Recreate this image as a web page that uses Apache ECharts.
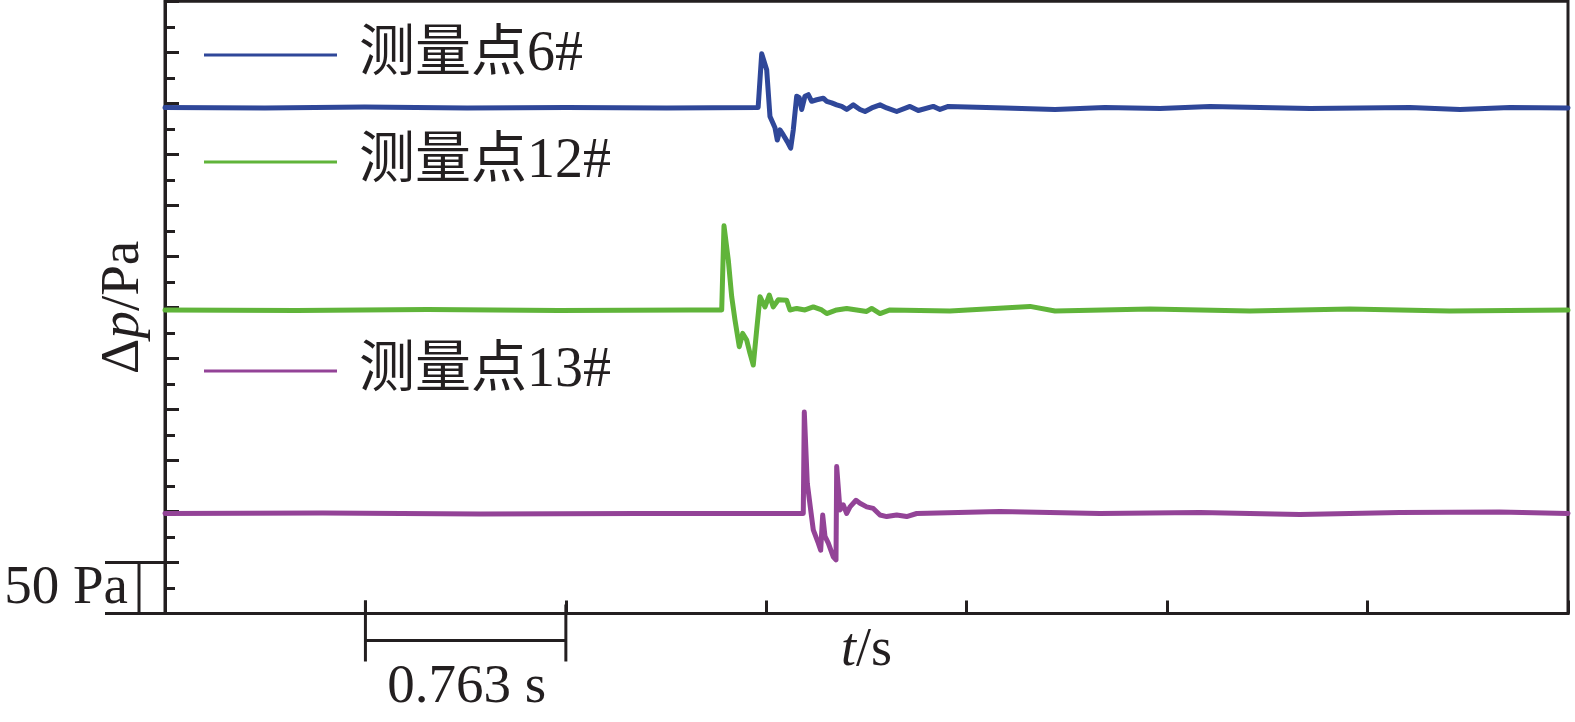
<!DOCTYPE html>
<html><head><meta charset="utf-8">
<script src="https://cdn.jsdelivr.net/npm/echarts@6/dist/echarts.min.js"></script>
<style>html,body{margin:0;padding:0;background:#fff}#c{width:1575px;height:722px}</style>
</head><body><div id="c"></div>
<script>
// ---- data ----
const seriesNames = ['测量点6#', '测量点12#', '测量点13#'];
const seriesColors = ['#2f4799', '#60b43a', '#934397'];

const t6 = [0, 0.38, 0.76, 1.15, 1.53, 1.91, 2.258, 2.2715, 2.2905, 2.3031, 2.3221, 2.3309, 2.3411, 2.3537, 2.3689, 2.3819, 2.3918, 2.4047, 2.4146, 2.4238, 2.4363, 2.4489, 2.4618, 2.4809, 2.5060, 2.5190, 2.5380, 2.5570, 2.5761, 2.5951, 2.6202, 2.6457, 2.6648, 2.6903, 2.7219, 2.7474, 2.7854, 2.8360, 2.8676, 2.9247, 2.9503, 2.9819, 3.198, 3.388, 3.578, 3.788, 3.978, 4.359, 4.739, 4.930, 5.120, 5.341];
const p6 = [496, 495.5, 496.5, 495.5, 496, 495.5, 496, 548.5, 533, 487, 476, 464, 474, 469, 462.5, 456, 474, 507, 505.5, 494, 507, 508.5, 502, 503.5, 505, 502, 500.5, 498.5, 497, 494, 498.5, 494, 492, 495.5, 498.5, 495.5, 492, 497, 493, 497, 494, 497, 495.5, 494, 496, 495, 497, 495, 496, 494, 496, 495.5];

const t12 = [0, 0.5, 1.0, 1.5, 2.0, 2.1193, 2.1280, 2.1444, 2.1573, 2.1699, 2.1862, 2.1992, 2.2144, 2.2270, 2.2395, 2.2525, 2.2650, 2.2715, 2.2840, 2.3004, 2.3156, 2.3347, 2.3666, 2.3792, 2.4047, 2.4363, 2.4679, 2.4999, 2.5190, 2.5570, 2.5951, 2.6332, 2.6712, 2.6903, 2.7219, 2.7600, 2.988, 3.293, 3.388, 3.75, 4.13, 4.51, 4.89, 5.341];
const p12 = [297.5, 297, 298, 297, 297.5, 297.5, 380, 346.5, 310.5, 287.5, 261.5, 274.5, 268, 255, 243.5, 278, 310.5, 312, 300.5, 312, 300.5, 307.5, 307, 297.5, 299, 297.5, 300.5, 297.5, 294, 297.5, 299, 297.5, 296, 299, 294, 297.5, 296.5, 301, 296.5, 298.5, 296.5, 298.5, 296.5, 297.5];

const t13 = [0, 0.6, 1.2, 1.8, 2.4298, 2.4337, 2.4451, 2.4580, 2.4679, 2.4870, 2.4961, 2.5037, 2.5125, 2.5251, 2.5441, 2.5544, 2.5570, 2.5631, 2.5696, 2.5822, 2.5951, 2.6077, 2.6305, 2.6457, 2.6712, 2.6963, 2.7219, 2.7474, 2.7854, 2.8235, 2.8616, 3.178, 3.559, 3.94, 4.32, 4.70, 5.08, 5.341];
const p13 = [98, 98.5, 97.5, 98, 98, 197.5, 127.5, 101.5, 82, 69, 62, 96.5, 75.5, 69, 55.5, 52.5, 144, 142.5, 101.5, 106.5, 98, 104.5, 111, 108, 104.5, 103, 96.5, 95, 96.5, 95, 98, 100, 98, 99, 97, 99, 99.5, 98];

const timeStep = 0.763;            // s per x division
const timeMax = 5.341;             // 7 divisions
const paStep = 50;                 // Pa per major y division
const paMax = 600;
const scaleBarTime = [0.763, 1.526];
const scaleBarPa = [0, 50];
const scaleBarTimeLabel = '0.763 s';
const scaleBarPaLabel = '50 Pa';

// ---- chart ----
const FONT = '"Liberation Serif", "Noto Sans CJK SC", serif';
const INK = '#231f20';
const zip = (t, p) => t.map((v, i) => [v, p[i]]);
const seriesData = [zip(t6, p6), zip(t12, p12), zip(t13, p13)];
const legendCenters = [55, 162, 371];

const chart = echarts.init(document.getElementById('c'), null, {renderer: 'canvas'});

const lineSeries = seriesNames.map((n, i) => ({
  name: n, type: 'line', data: seriesData[i], showSymbol: false, symbol: 'none',
  lineStyle: {color: seriesColors[i], width: 5, join: 'round', cap: 'round'}, itemStyle: {color: seriesColors[i]},
  animation: false, z: 3
}));

const scaleSeries = {
  type: 'custom', silent: true, clip: false, animation: false, z: 5,
  data: [[scaleBarTime[0], scaleBarTime[1], scaleBarPa[0], scaleBarPa[1]]],
  renderItem: function (params, api) {
    const a = api.coord([api.value(0), 0]);
    const b = api.coord([api.value(1), 0]);
    const o = api.coord([0, api.value(2)]);
    const q = api.coord([0, api.value(3)]);
    const ls = {stroke: INK, lineWidth: 3};
    const barY = a[1] + 27, bottomY = a[1] + 48;
    return {type: 'group', children: [
      {type: 'line', shape: {x1: a[0], y1: a[1] - 13, x2: a[0], y2: bottomY}, style: ls},
      {type: 'line', shape: {x1: b[0], y1: b[1] - 9, x2: b[0], y2: bottomY}, style: ls},
      {type: 'line', shape: {x1: a[0], y1: barY, x2: b[0], y2: barY}, style: ls},
      {type: 'text', x: (a[0] + b[0]) / 2 + 1, y: a[1] + 74, style: {text: scaleBarTimeLabel, fill: INK, font: '55px ' + FONT, align: 'center', verticalAlign: 'middle'}},
      {type: 'line', shape: {x1: q[0] - 60, y1: q[1], x2: q[0], y2: q[1]}, style: ls},
      {type: 'line', shape: {x1: o[0] - 60, y1: o[1], x2: o[0], y2: o[1]}, style: ls},
      {type: 'line', shape: {x1: o[0] - 26, y1: q[1], x2: o[0] - 26, y2: o[1]}, style: ls},
      {type: 'text', x: o[0] - 37, y: (o[1] + q[1]) / 2 + 1, style: {text: scaleBarPaLabel, fill: INK, font: '55px ' + FONT, align: 'right', verticalAlign: 'middle'}}
    ]};
  }
};

const legends = seriesNames.map((n, i) => ({
  data: [n], left: 204, top: legendCenters[i] - 30, padding: 0, orient: 'horizontal',
  icon: 'rect', itemWidth: 133, itemHeight: 3, selectedMode: false,
  textStyle: {fontSize: 56, fontFamily: FONT, color: INK, lineHeight: 60, padding: [0, 0, 0, 17]}
}));

chart.setOption({
  backgroundColor: '#fff',
  animation: false,
  legend: legends,
  grid: {left: 165, right: 7, top: 1.3, bottom: 108.5, show: true, borderColor: INK, borderWidth: 3, backgroundColor: 'transparent'},
  xAxis: {
    type: 'value', min: 0, max: timeMax, interval: timeStep,
    name: '{i|t}/s', nameLocation: 'middle', nameGap: 10,
    nameTextStyle: {fontSize: 54, fontFamily: FONT, color: INK, verticalAlign: 'top',
      rich: {i: {fontSize: 54, fontFamily: FONT, fontStyle: 'italic', color: INK}}},
    axisLine: {show: true, lineStyle: {color: INK, width: 3}},
    axisTick: {show: true, inside: true, length: 13, lineStyle: {color: INK, width: 3}},
    axisLabel: {show: false}, splitLine: {show: false}
  },
  yAxis: {
    type: 'value', min: 0, max: paMax, interval: paStep,
    name: 'Δ{i|p}/Pa', nameLocation: 'middle', nameGap: 14, nameRotate: 90,
    nameTextStyle: {fontSize: 55, fontFamily: FONT, color: INK,
      rich: {i: {fontSize: 55, fontFamily: FONT, fontStyle: 'italic', color: INK}}},
    axisLine: {show: true, lineStyle: {color: INK, width: 3}},
    axisTick: {show: true, inside: true, length: 14, lineStyle: {color: INK, width: 3}},
    minorTick: {show: true, splitNumber: 2, length: 10, lineStyle: {color: INK, width: 3}},
    axisLabel: {show: false}, splitLine: {show: false}, minorSplitLine: {show: false}
  },
  series: lineSeries.concat([scaleSeries])
});
</script></body></html>
